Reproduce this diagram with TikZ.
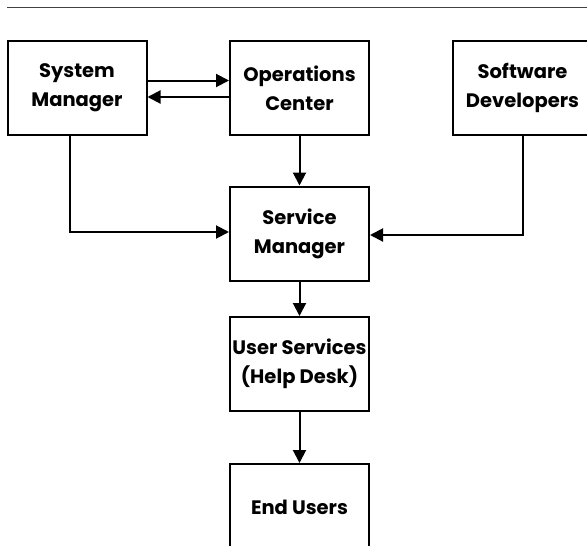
\documentclass[tikz,border=0pt]{standalone}
\usepackage{fontspec}
\setmainfont{Poppins}
\usetikzlibrary{arrows.meta}
\tikzset{
  box/.style={draw=black, line width=2pt, minimum width=139pt, minimum height=94pt,
    inner sep=0pt, align=center, font=\fontsize{19.5}{29}\selectfont\bfseries},
  arr/.style={draw=black, line width=2pt, -{Triangle[length=13pt,width=13pt]}}
}
\begin{document}
\begin{tikzpicture}[x=1pt,y=-1pt]
\useasboundingbox (0,0) rectangle (587,546);
\clip (0,0) rectangle (587,546);
\coordinate (lineL) at (7,7.5);
\coordinate (lineR) at (590,7.5);
\draw[line width=1.2pt, black!75] (lineL) -- (lineR);
\node[box] (SM) at (77,88) {System\\Manager};
\node[box] (OC) at (299.5,88) {Operations\\Center};
\node[box] (SD) at (522.5,88) {Software\\Developers};
\node[box] (SvM) at (299.5,233.5) {Service\\Manager};
\node[box] (US) at (299.5,364) {User Services\\(Help Desk)};
\node[box, minimum height=86pt] (EU) at (299.5,507) {End Users};
\draw[arr] ([yshift=7.5pt]SM.east) -- ([yshift=7.5pt]OC.west);
\draw[arr] ([yshift=-9pt]OC.west) -- ([yshift=-9pt]SM.east);
\draw[arr] (OC.south) -- (SvM.north);
\draw[arr] ([xshift=-7pt]SM.south) |- ([yshift=1.5pt]SvM.west);
\draw[arr] (SD.south) |- ([yshift=-1.5pt]SvM.east);
\draw[arr] (SvM.south) -- (US.north);
\draw[arr] (US.south) -- (EU.north);
\end{tikzpicture}
\end{document}
